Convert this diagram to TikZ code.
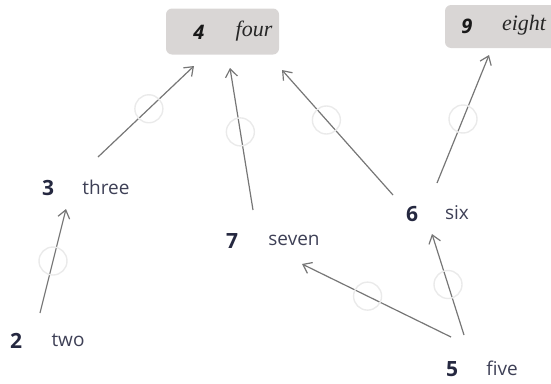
\documentclass[tikz,border=0pt]{standalone}
\usepackage{fontspec}
\setmainfont{Open Sans}
\newfontfamily\serifit{Liberation Serif}
\usetikzlibrary{arrows.meta}
\definecolor{numc}{HTML}{252840}
\definecolor{labc}{HTML}{3E4056}
\definecolor{boxc}{HTML}{D9D6D5}
\definecolor{edgec}{HTML}{767676}
\definecolor{ringc}{HTML}{EAEAEA}
\tikzset{
  num/.style={inner sep=0pt, text=numc, font=\fontsize{21}{21}\selectfont\bfseries},
  lab/.style={inner sep=0pt, text=labc, font=\fontsize{19}{19}\selectfont},
  boxnum/.style={inner sep=0pt, text=black!90, font=\fontsize{20}{20}\selectfont\bfseries\itshape},
  boxlab/.style={inner sep=0pt, text=black!85, font=\fontsize{22}{22}\serifit\itshape},
  hbox/.style={draw=none, fill=boxc, rounded corners=6pt, inner sep=0pt},
  edge/.style={draw=edgec, line width=1.2pt, -{Straight Barb[length=8pt,width=12pt,line width=1.2pt]}},
  ring/.style={circle, draw=ringc, line width=1.4pt, minimum size=28pt, inner sep=0pt}
}
\begin{document}
\begin{tikzpicture}[x=1pt,y=-1pt]
\useasboundingbox (0,0) rectangle (551,383);
% boxes
\node[hbox, minimum width=113pt, minimum height=46pt] (n4) at (222.5,31.5) {};
\node[hbox, minimum width=114pt, minimum height=43pt] (n9) at (502,26.5) {};
\node[boxnum] (t4) at (199,32) {4};
\node[boxlab] (l4) at (254,31) {four};
\node[boxnum] (t9) at (467,26) {9};
\node[boxlab] (l9) at (524,25) {eight};
% plain nodes
\node[num] (n3) at (48,188) {3};
\node[lab] (l3) at (106,187) {three};
\node[num] (n2) at (16,341) {2};
\node[lab] (l2) at (68,340) {two};
\node[num] (n7) at (232,241) {7};
\node[lab] (l7) at (294,240) {seven};
\node[num] (n6) at (412,214) {6};
\node[lab] (l6) at (457,213) {six};
\node[num] (n5) at (452,369) {5};
\node[lab] (l5) at (502,368) {five};
% edges
\draw[edge] ([shift={(50,-31)}]n3.center) -- node[ring, pos=.53]{} ([shift={(-28.5,34.5)}]n4.center);
\draw[edge] ([shift={(21,-31)}]n7.center) -- node[ring, pos=.55]{} ([shift={(7.5,36.5)}]n4.center);
\draw[edge] ([shift={(-19,-19)}]n6.center) -- node[ring, pos=.6]{} ([shift={(59.5,38.5)}]n4.center);
\draw[edge] ([shift={(25,-31)}]n6.center) -- node[ring, pos=.5]{} ([shift={(-13,28.5)}]n9.center);
\draw[edge] ([shift={(24,-28)}]n2.center) -- node[ring, pos=.5]{} ([shift={(18,21)}]n3.center);
\draw[edge] ([shift={(-1,-32)}]n5.center) -- node[ring, pos=.56]{} ([shift={(70,23)}]n7.center);
\draw[edge] ([shift={(12,-34)}]n5.center) -- node[ring, pos=.5]{} ([shift={(20,20)}]n6.center);
\end{tikzpicture}
\end{document}
